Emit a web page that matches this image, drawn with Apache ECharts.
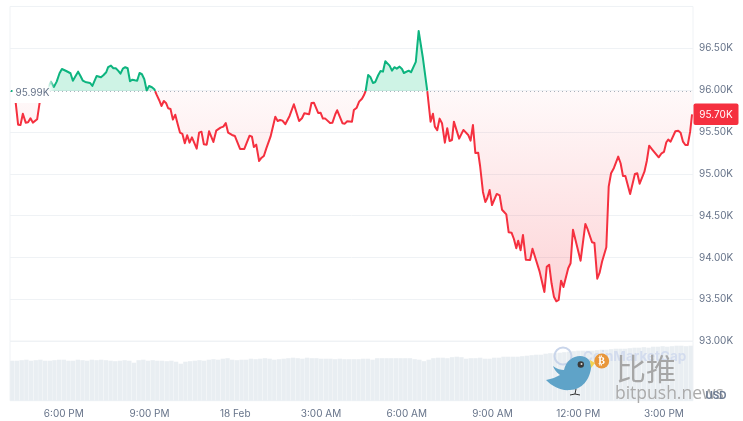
<!DOCTYPE html>
<html><head><meta charset="utf-8">
<style>html,body{margin:0;padding:0;background:#fff;overflow:hidden}#c{width:743px;height:421px}</style>
<script src="https://cdn.jsdelivr.net/npm/echarts@6/dist/echarts.min.js"></script>
</head><body><div id="c"></div>
<script>
const minutes=[2,12,17,22,27,33,38,43,48,52,57,62,86,92,98,104,109,113,118,122,127,132,138,143,148,153,158,162,168,173,182,191,196,202,206,212,217,222,227,232,237,242,247,252,257,262,267,272,277,282,287,292,298,303,308,313,318,323,328,332,337,342,347,352,357,362,367,372,377,382,392,397,402,407,413,418,427,433,437,442,448,453,458,466,472,483,492,503,508,512,517,523,527,533,538,542,547,557,562,567,572,578,587,596,607,613,618,628,633,638,647,652,657,662,672,677,683,687,698,703,708,718,722,728,733,739,743,747,752,757,762,767,773,778,783,788,792,797,802,807,812,818,823,827,837,842,852,858,867,876,883,888,892,897,902,907,913,918,923,928,932,943,952,962,967,972,977,983,987,993,998,1002,1007,1012,1022,1028,1033,1037,1042,1047,1053,1058,1063,1067,1072,1077,1083,1092,1097,1112,1122,1127,1132,1137,1142,1147,1152,1157,1162,1172,1177,1182,1198,1208,1212,1222,1227,1233,1238,1243,1252,1257,1262,1268,1272,1277,1282,1287,1292,1302,1312,1317,1322,1332,1337,1342,1348,1362,1368,1373,1378,1382,1387,1397,1403,1408,1413,1418,1423,1428,1432];
const prices=[95.99,95.847,95.588,95.584,95.719,95.612,95.616,95.664,95.612,95.62,95.652,95.843,96.102,96.038,96.102,96.202,96.253,96.269,96.229,96.245,96.202,96.113,96.173,96.221,96.17,96.113,96.098,96.11,96.086,96.05,96.17,96.154,96.178,96.214,96.274,96.293,96.262,96.262,96.233,96.197,96.257,96.274,96.262,96.106,96.125,96.118,96.113,96.205,96.19,96.13,95.995,96.05,96.035,96.011,95.943,95.883,95.811,95.871,95.843,95.784,95.775,95.648,95.707,95.596,95.492,95.477,95.366,95.461,95.373,95.437,95.301,95.492,95.504,95.354,95.349,95.509,95.381,95.516,95.525,95.552,95.564,95.608,95.492,95.465,95.453,95.298,95.298,95.456,95.444,95.321,95.349,95.154,95.186,95.214,95.301,95.282,95.444,95.683,95.632,95.644,95.636,95.593,95.692,95.832,95.632,95.664,95.724,95.712,95.847,95.851,95.728,95.731,95.66,95.66,95.608,95.612,95.712,95.76,95.605,95.6,95.628,95.624,95.763,95.791,95.863,95.898,95.939,95.994,96.182,96.154,96.086,96.098,96.178,96.229,96.221,96.345,96.364,96.293,96.233,96.274,96.257,96.281,96.253,96.205,96.233,96.214,96.337,96.707,96.381,95.994,95.624,95.719,95.564,95.521,95.66,95.605,95.373,95.545,95.393,95.405,95.624,95.421,95.525,95.465,95.397,95.584,95.25,95.253,95.094,94.784,94.664,94.709,94.808,94.628,94.76,94.744,94.572,94.548,94.517,94.302,94.298,94.222,94.111,94.202,94.087,94.27,93.975,93.971,94.106,93.832,93.589,93.891,93.915,93.693,93.533,93.478,93.494,93.724,93.649,93.872,93.932,94.333,93.963,94.402,94.35,94.183,94.175,93.748,93.82,93.951,94.123,94.847,95.007,95.071,95.071,95.206,95.127,94.975,94.975,94.76,94.999,95.007,94.883,95.026,95.154,95.337,95.294,95.198,95.246,95.262,95.378,95.409,95.385,95.509,95.516,95.492,95.385,95.345,95.345,95.504,95.712];
const volumes=[40,40,40.5,41,40,40.5,41,40,40,40.5,41,41,40,40,41,40.5,40,41,40.5,41,40.5,40,39.5,40,40.5,40,38,40.5,41,40,40.5,40,40,39.5,40,39,37,39,39.5,40,40.5,40,41,41.5,41,42,42.5,41,40.5,41,41,42,41.5,42,42.5,42,41,41.5,42,42.5,43,42.5,42,43,42.5,42.5,42,42,42,41.5,42,41.5,41.5,41.5,41.5,42,42,41,42.5,42.5,42.5,42.5,42.5,42.5,42.5,42.5,41.5,41,39.5,41,42.5,43,43,42.5,43.5,44,43.5,42,42.5,42.5,43,42,42,43,43,44,44,44,44,44.5,45,45.5,46,46,47,47.5,47.5,48,48.5,49,49.5,50,50,50,50,50.5,51,51,51.5,52,52,52,52.5,53,53,53.5,53,54,54,54.5,54,54.5,55,55,54.5,55];
const tickMinutes=[113,293,473,653,833,1013,1193,1373];
const tickLabels=["6:00 PM","9:00 PM","18 Feb","3:00 AM","6:00 AM","9:00 AM","12:00 PM","3:00 PM"];
const priceTicks=[93,93.5,94,94.5,95,95.5,96,96.5];
const basePrice=95.99, lastPriceLabel="95.70K", basePriceLabel="95.99K";

const redData=[], greenData=[];
minutes.forEach((t,i)=>{
  const v=prices[i];
  if(i>0){
    const pv=prices[i-1], pt=minutes[i-1];
    if((pv-basePrice)*(v-basePrice)<0){
      const ct=pt+(t-pt)*(basePrice-pv)/(v-pv);
      redData.push([ct,basePrice]); greenData.push([ct,basePrice]);
      if(v>basePrice) redData.push([ct+0.01,null]); else greenData.push([ct+0.01,null]);
    }
  }
  (v<basePrice?redData:greenData).push([t,v]);
});

echarts.graphic.registerShape('birdBody',echarts.graphic.extendPath('M546 380 C552 379 556 377 560 375 C556 372 554 369 553 366 C557 369 561 370 564 370 C566 361 573 356 580 356 C587 356 592 361 591 368 C590 379 582 390 570 390 C560 391 552 386 546 380 Z'));

const textCol='#667389', gridCol='#eff2f5', font='Inter';
const chart=echarts.init(document.getElementById('c'),null,{renderer:'canvas'});
chart.setOption({
  animation:false,
  backgroundColor:'#fff',
  grid:[
    {left:10,width:683,top:6.45,height:334.85,show:true,borderColor:gridCol,borderWidth:1,backgroundColor:'transparent'},
    {left:10,width:683,top:341.3,height:59.4,show:true,borderColor:gridCol,borderWidth:1,backgroundColor:'transparent'}
  ],
  xAxis:[
    {type:'value',gridIndex:0,min:0,max:1434,splitLine:{show:false},axisLine:{show:false},axisTick:{show:false},axisLabel:{show:false}},
    {type:'value',gridIndex:1,min:0,max:1434,splitLine:{show:false},axisLine:{show:false},axisTick:{show:false},
      axisLabel:{customValues:tickMinutes,formatter:v=>tickLabels[tickMinutes.indexOf(v)]||'',color:textCol,fontFamily:font,fontSize:10,margin:8,hideOverlap:false}},
    {type:'category',gridIndex:1,data:volumes.map((_,i)=>i),show:false}
  ],
  yAxis:[
    {type:'value',gridIndex:0,position:'right',min:93,max:97,interval:0.5,splitLine:{lineStyle:{color:gridCol,width:1}},axisLine:{show:false},axisTick:{show:false},
      axisLabel:{showMaxLabel:false,formatter:v=>priceTicks.includes(v)?v.toFixed(2)+'K':'',color:textCol,fontFamily:font,fontSize:10,margin:6}},
    {type:'value',gridIndex:1,min:0,max:59.4,show:false}
  ],
  series:[
    {type:'bar',xAxisIndex:2,yAxisIndex:1,data:volumes,barCategoryGap:'6%',itemStyle:{color:'#e9eef2'},z:1,silent:true},
    {type:'line',xAxisIndex:0,yAxisIndex:0,data:redData,showSymbol:false,connectNulls:false,z:3,
      lineStyle:{color:'#f5303f',width:2,join:'round'},
      areaStyle:{origin:basePrice,color:new echarts.graphic.LinearGradient(0,0,0,1,[{offset:0,color:'rgba(245,48,63,0.04)'},{offset:1,color:'rgba(245,48,63,0.3)'}])},
      markLine:{silent:true,symbol:'none',animation:false,label:{show:false},lineStyle:{color:'#a9b1bb',type:[1,3],width:1.2},data:[{yAxis:basePrice}]}},
    {type:'line',xAxisIndex:0,yAxisIndex:0,data:greenData,showSymbol:false,connectNulls:false,z:3,
      lineStyle:{color:'#0db47f',width:2,join:'round'},
      areaStyle:{origin:basePrice,color:'rgba(22,199,132,0.3)'}}
  ],
  graphic:[
    {type:'rect',z:50,shape:{x:12.5,y:78,width:42,height:25},style:{fill:new echarts.graphic.LinearGradient(0,0,1,0,[{offset:0,color:'#fff'},{offset:0.84,color:'#fff'},{offset:1,color:'rgba(255,255,255,0)'}])}},
    {type:'text',z:51,style:{x:15.5,y:92.5,text:basePriceLabel,fill:textCol,font:'10px Inter',verticalAlign:'middle'}},
    {type:'rect',z:50,shape:{x:693.5,y:103.5,width:45,height:21.5,r:2},style:{fill:'#f5303f'}},
    {type:'text',z:51,style:{x:716,y:114.5,text:lastPriceLabel,fill:'#fff',font:'10px Inter',align:'center',verticalAlign:'middle'}},
    {type:'circle',z:40,shape:{cx:563,cy:356,r:8.5},style:{fill:'none',stroke:'#c9d5ea',lineWidth:2}},
    {type:'text',z:40,style:{x:583,y:357,text:'CoinMarketCap',fill:'#d3dcee',font:'bold 13.5px Inter',verticalAlign:'middle'}},
    {type:'birdBody',z:60,style:{fill:'#5fa3c8'}},
    {type:'circle',z:61,shape:{cx:580.8,cy:364.5,r:3.2},style:{fill:'#3a3a3a'}},
    {type:'circle',z:62,shape:{cx:581.5,cy:364,r:1},style:{fill:'#ddd'}},
    {type:'polygon',z:60,shape:{points:[[590,360],[595,363],[591,368]]},style:{fill:'#f2d34f'}},
    {type:'polyline',z:60,shape:{points:[[576,389],[575,394],[570,395]]},style:{fill:'none',stroke:'#333',lineWidth:1}},
    {type:'polyline',z:60,shape:{points:[[575,394],[580,395]]},style:{fill:'none',stroke:'#333',lineWidth:1}},
    {type:'circle',z:60,shape:{cx:601.7,cy:361,r:7.5},style:{fill:'#e8963a'}},
    {type:'text',z:61,style:{x:601.7,y:361,text:'₿',fill:'#fff',font:'bold 10px "DejaVu Sans"',align:'center',verticalAlign:'middle'}},
    {type:'text',z:60,style:{x:616,y:369,text:'比推',fill:'#a6a6a6',font:'30px "Noto Sans CJK SC"',verticalAlign:'middle'}},
    {type:'text',z:60,style:{x:615,y:394,text:'bitpush.news',fill:'#ababab',font:'17.5px "Open Sans"',verticalAlign:'middle'}},
    {type:'text',z:61,style:{x:716,y:396,text:'USD',fill:'#6d7b92',font:'bold 10px Inter',align:'center',verticalAlign:'middle'}}
  ]
});
</script></body></html>
